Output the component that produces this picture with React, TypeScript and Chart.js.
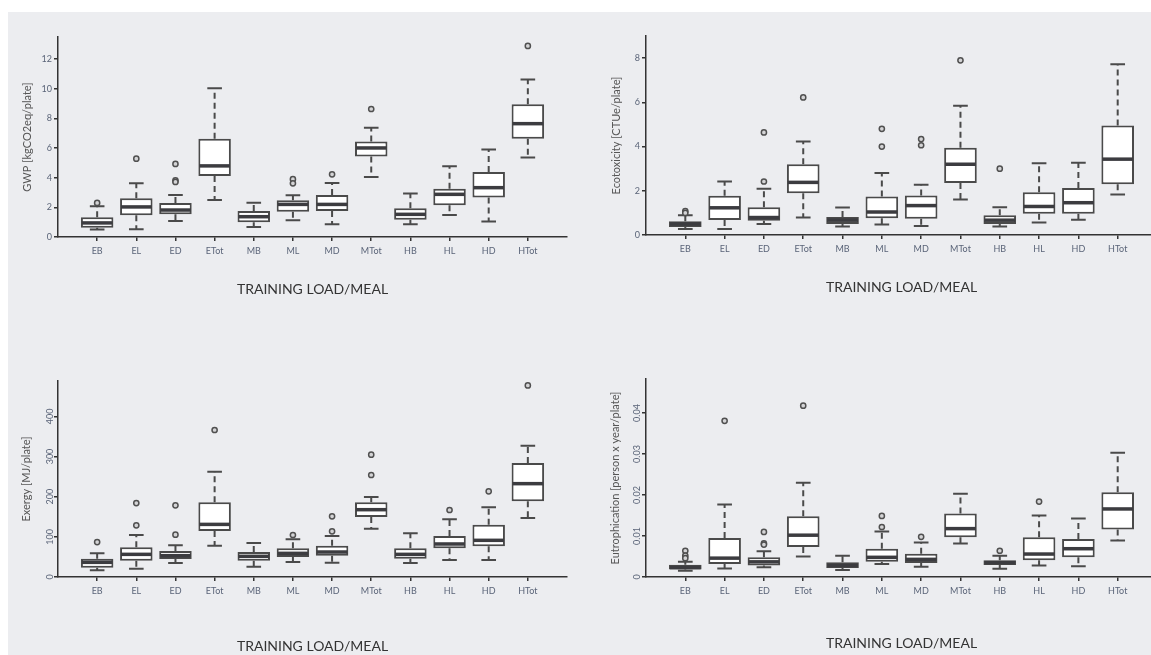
import React, { useEffect, useRef } from 'react';
import { Chart, registerables } from 'chart.js';

Chart.register(...registerables);

const categories = ['EB', 'EL', 'ED', 'ETot', 'MB', 'ML', 'MD', 'MTot', 'HB', 'HL', 'HD', 'HTot'];
const xAxisTitle = 'TRAINING LOAD/MEAL';

// GWP [kgCO2eq/plate]
const gwpLow = [0.5, 0.52, 1.08, 2.5, 0.68, 1.13, 0.86, 4.05, 0.86, 1.49, 1.04, 5.36];
const gwpQ1 = [0.63, 1.46, 1.53, 4.12, 0.99, 1.71, 1.76, 5.43, 1.17, 2.14, 2.66, 6.64];
const gwpMedian = [0.95, 2.03, 1.82, 4.8, 1.37, 2.2, 2.2, 6.01, 1.53, 2.88, 3.33, 7.65];
const gwpQ3 = [1.33, 2.61, 2.3, 6.64, 1.76, 2.48, 2.84, 6.44, 1.94, 3.26, 4.39, 8.96];
const gwpHigh = [2.07, 3.62, 2.84, 10.04, 2.32, 2.81, 3.65, 7.38, 2.93, 4.77, 5.9, 10.63];
const gwpOutliers: [string, number][] = [
  ['EB', 2.3], ['EL', 5.29], ['ED', 4.93], ['ED', 3.82], ['ED', 3.72],
  ['ML', 3.9], ['ML', 3.62], ['MD', 4.23], ['MTot', 8.64], ['HTot', 12.9],
];

// Ecotoxicity [CTUe/plate]
const ecoLow = [0.27, 0.27, 0.5, 0.79, 0.39, 0.47, 0.41, 1.6, 0.39, 0.57, 0.69, 1.83];
const ecoQ1 = [0.36, 0.68, 0.64, 1.89, 0.5, 0.76, 0.73, 2.35, 0.5, 0.96, 0.96, 2.3];
const ecoMedian = [0.5, 1.23, 0.79, 2.38, 0.67, 1.04, 1.33, 3.2, 0.67, 1.29, 1.46, 3.43];
const ecoQ3 = [0.62, 1.77, 1.26, 3.2, 0.81, 1.74, 1.79, 3.95, 0.89, 1.93, 2.12, 4.95];
const ecoHigh = [0.89, 2.42, 2.09, 4.23, 1.24, 2.8, 2.27, 5.85, 1.26, 3.24, 3.27, 7.72];
const ecoOutliers: [string, number][] = [
  ['EB', 1.08], ['EB', 1.0], ['ED', 2.42], ['ED', 4.64], ['ETot', 6.22],
  ['ML', 4.8], ['ML', 4.0], ['MD', 4.34], ['MD', 4.06], ['MTot', 7.9], ['HB', 3.0],
];

// Exergy [MJ/plate]
const exLow = [16.6, 20.7, 34.9, 78, 25.7, 37.3, 35.7, 120, 34.9, 42.3, 42.3, 146.9];
const exQ1 = [23.2, 40.7, 44.8, 114.5, 40.7, 49.8, 53.1, 149.4, 45.6, 71.4, 76.3, 188.4];
const exMedian = [36.5, 56.4, 53.1, 131, 51.5, 58.9, 62.2, 167.6, 56.4, 82.2, 91.3, 232.4];
const exQ3 = [45.6, 73.9, 64.7, 185.9, 62.2, 71.4, 78, 185.9, 71.4, 102, 130.3, 283.8];
const exHigh = [58.9, 104.6, 78.8, 262, 84.6, 93.8, 102, 199, 108.7, 143.6, 173.4, 327];
const exOutliers: [string, number][] = [
  ['EB', 87], ['EL', 128.6], ['EL', 184], ['ED', 105.4], ['ED', 178.4], ['ETot', 366],
  ['ML', 104.6], ['MD', 113.7], ['MD', 151], ['MTot', 254], ['MTot', 304.6],
  ['HL', 166.8], ['HD', 213.3], ['HTot', 477],
];

// Eutrophication [person x year/plate]
const euLow = [0.0015, 0.0021, 0.0024, 0.005, 0.0017, 0.0032, 0.0025, 0.0082, 0.002, 0.0028, 0.0026, 0.0089];
const euQ1 = [0.0018, 0.0032, 0.0028, 0.0073, 0.0022, 0.0037, 0.0034, 0.0097, 0.0029, 0.0041, 0.0048, 0.0116];
const euMedian = [0.0023, 0.0046, 0.0037, 0.0102, 0.0028, 0.0048, 0.0043, 0.0118, 0.0035, 0.0056, 0.0069, 0.0166];
const euQ3 = [0.003, 0.0095, 0.0048, 0.0148, 0.0036, 0.0069, 0.0057, 0.0155, 0.0041, 0.0097, 0.0093, 0.0207];
const euHigh = [0.0037, 0.0177, 0.0063, 0.023, 0.0052, 0.0111, 0.0084, 0.0203, 0.0052, 0.015, 0.0143, 0.0303];
const euOutliers: [string, number][] = [
  ['EB', 0.0064], ['EB', 0.0052], ['EB', 0.0046], ['EL', 0.0381], ['ED', 0.011],
  ['ED', 0.0082], ['ED', 0.0079], ['ETot', 0.0418], ['ML', 0.0122], ['ML', 0.0149],
  ['MD', 0.0098], ['HB', 0.0064], ['HL', 0.0184],
];

const FONT = 'Lato, "Open Sans", "DejaVu Sans", sans-serif';
const TICK_COLOR = '#5a6478';
const AXIS_COLOR = '#333333';
const BOX_COLOR = '#4a4a4a';
const MEDIAN_COLOR = '#3c3c40';

type Panel = {
  title: string;
  low: number[]; q1: number[]; med: number[]; q3: number[]; high: number[];
  outliers: [string, number][];
  yMax: number; step: number; rotate: boolean;
  left: number; top: number; width: number; height: number;
  yw: number; pt: number; xh: number; xTitlePad: number; yTitlePad: number; tickPad: number;
};

const panels: Panel[] = [
  {
    title: 'GWP [kgCO2eq/plate]', low: gwpLow, q1: gwpQ1, med: gwpMedian, q3: gwpQ3, high: gwpHigh, outliers: gwpOutliers,
    yMax: 13.5, step: 2, rotate: false,
    left: 8, top: 12, width: 564, height: 300, yw: 50, pt: 25, xh: 75, xTitlePad: 14, yTitlePad: 13, tickPad: 2,
  },
  {
    title: 'Ecotoxicity [CTUe/plate]', low: ecoLow, q1: ecoQ1, med: ecoMedian, q3: ecoQ3, high: ecoHigh, outliers: ecoOutliers,
    yMax: 9, step: 2, rotate: false,
    left: 580, top: 12, width: 582, height: 300, yw: 66, pt: 24, xh: 77, xTitlePad: 16, yTitlePad: 30, tickPad: 2,
  },
  {
    title: 'Exergy [MJ/plate]', low: exLow, q1: exQ1, med: exMedian, q3: exQ3, high: exHigh, outliers: exOutliers,
    yMax: 488, step: 100, rotate: true,
    left: 8, top: 312, width: 564, height: 343, yw: 50, pt: 69, xh: 78, xTitlePad: 0, yTitlePad: 12, tickPad: -4,
  },
  {
    title: 'Eutrophication [person x year/plate]', low: euLow, q1: euQ1, med: euMedian, q3: euQ3, high: euHigh, outliers: euOutliers,
    yMax: 0.0483, step: 0.01, rotate: true,
    left: 580, top: 312, width: 582, height: 343, yw: 66, pt: 67, xh: 78, xTitlePad: 3, yTitlePad: 29, tickPad: -4,
  },
];

function makeBoxPlugin(p: Panel) {
  return {
    id: 'boxWhiskers',
    beforeDatasetsDraw(chart: any) {
      const ctx = chart.ctx;
      const x = chart.scales.x;
      const y = chart.scales.y;
      const meta = chart.getDatasetMeta(0);
      ctx.save();
      ctx.strokeStyle = BOX_COLOR;
      ctx.lineWidth = 2;
      categories.forEach((c, i) => {
        const el = meta.data[i + 1];
        const cx = x.getPixelForValue(i + 1);
        const w = el ? el.width : 30;
        const cap = w * 0.45;
        const yLow = y.getPixelForValue(p.low[i]);
        const yHigh = y.getPixelForValue(p.high[i]);
        const yQ1 = y.getPixelForValue(p.q1[i]);
        const yQ3 = y.getPixelForValue(p.q3[i]);
        ctx.setLineDash([6, 4]);
        ctx.beginPath();
        ctx.moveTo(cx, yQ3);
        ctx.lineTo(cx, yHigh);
        ctx.moveTo(cx, yQ1);
        ctx.lineTo(cx, yLow);
        ctx.stroke();
        ctx.setLineDash([]);
        ctx.beginPath();
        ctx.moveTo(cx - cap / 2, yHigh);
        ctx.lineTo(cx + cap / 2, yHigh);
        ctx.moveTo(cx - cap / 2, yLow);
        ctx.lineTo(cx + cap / 2, yLow);
        ctx.stroke();
      });
      ctx.restore();
    },
    afterDatasetsDraw(chart: any) {
      const ctx = chart.ctx;
      const x = chart.scales.x;
      const y = chart.scales.y;
      const meta = chart.getDatasetMeta(0);
      ctx.save();
      ctx.strokeStyle = MEDIAN_COLOR;
      ctx.lineWidth = 3.5;
      categories.forEach((c, i) => {
        const el = meta.data[i + 1];
        const cx = x.getPixelForValue(i + 1);
        const w = el ? el.width : 30;
        const ym = y.getPixelForValue(p.med[i]);
        ctx.beginPath();
        ctx.moveTo(cx - w / 2 + 1, ym);
        ctx.lineTo(cx + w / 2 - 1, ym);
        ctx.stroke();
      });
      ctx.restore();
    },
  };
}

function BoxChart({ p }: { p: Panel }) {
  const ref = useRef<HTMLCanvasElement>(null);
  useEffect(() => {
    if (!ref.current) return;
    const labels = ['', ...categories, ''];
    const boxes: any[] = [null, ...categories.map((_, i) => [p.q1[i], p.q3[i]]), null];
    const lastIndex = labels.length - 1;
    const chart = new Chart(ref.current, {
      type: 'bar',
      data: {
        labels,
        datasets: [
          {
            type: 'bar',
            data: boxes,
            backgroundColor: '#ffffff',
            borderColor: BOX_COLOR,
            borderWidth: 2,
            borderSkipped: false,
            barPercentage: 0.83,
            categoryPercentage: 1,
            order: 2,
          } as any,
          {
            type: 'scatter',
            data: p.outliers.map(([c, v]) => ({ x: c, y: v })),
            pointRadius: 2.6,
            pointHoverRadius: 2.6,
            pointBackgroundColor: '#d4d4d6',
            pointBorderColor: '#505050',
            pointBorderWidth: 1.5,
            backgroundColor: '#d4d4d6',
            borderColor: '#505050',
            order: 1,
          } as any,
        ],
      },
      options: {
        responsive: false,
        animation: false,
        events: [],
        layout: { padding: { left: 0, right: 0, top: p.pt, bottom: 0 } },
        plugins: {
          legend: { display: false },
          tooltip: { enabled: false },
        },
        scales: {
          x: {
            type: 'category',
            offset: false,
            afterFit: (s: any) => { s.height = p.xh; },
            border: { color: AXIS_COLOR, width: 1.5 },
            grid: {
              offset: false,
              drawOnChartArea: false,
              drawTicks: true,
              tickLength: 4,
              lineWidth: 1.5,
              color: (ctx: any) => (ctx.index === 0 || ctx.index === lastIndex ? 'rgba(0,0,0,0)' : AXIS_COLOR),
            },
            ticks: {
              autoSkip: false,
              maxRotation: 0,
              minRotation: 0,
              padding: 5,
              color: TICK_COLOR,
              font: { family: FONT, size: 9 },
            },
            title: {
              display: true,
              text: xAxisTitle,
              color: '#333333',
              font: { family: FONT, size: 14 },
              padding: { top: 0, bottom: p.xTitlePad },
            },
          },
          y: {
            type: 'linear',
            min: 0,
            max: p.yMax,
            afterFit: (s: any) => { s.width = p.yw; },
            border: { color: AXIS_COLOR, width: 1.5 },
            grid: {
              drawOnChartArea: false,
              drawTicks: true,
              tickLength: 4,
              lineWidth: 1.5,
              color: AXIS_COLOR,
            },
            ticks: {
              stepSize: p.step,
              includeBounds: false,
              padding: p.tickPad,
              color: TICK_COLOR,
              font: { family: FONT, size: 9 },
              minRotation: p.rotate ? 90 : 0,
              maxRotation: p.rotate ? 90 : 0,
              crossAlign: p.rotate ? 'center' : 'near',
            },
            title: {
              display: true,
              text: p.title,
              color: '#555555',
              font: { family: FONT, size: 11 },
              padding: { top: p.yTitlePad, bottom: 0 },
            },
          },
        },
      } as any,
      plugins: [makeBoxPlugin(p)],
    });
    return () => chart.destroy();
  }, [p]);
  return (
    <canvas
      ref={ref}
      width={p.width}
      height={p.height}
      style={{ position: 'absolute', left: p.left, top: p.top, width: p.width, height: p.height }}
    />
  );
}

export default function App() {
  return (
    <div style={{ position: 'fixed', left: 0, top: 0, width: 1151, height: 655, overflow: 'hidden', background: '#ffffff' }}>
      <div style={{ position: 'absolute', left: 8, top: 12, width: 1143, height: 643, background: '#ecedf0' }} />
      {panels.map((p, i) => (
        <BoxChart key={i} p={p} />
      ))}
    </div>
  );
}
